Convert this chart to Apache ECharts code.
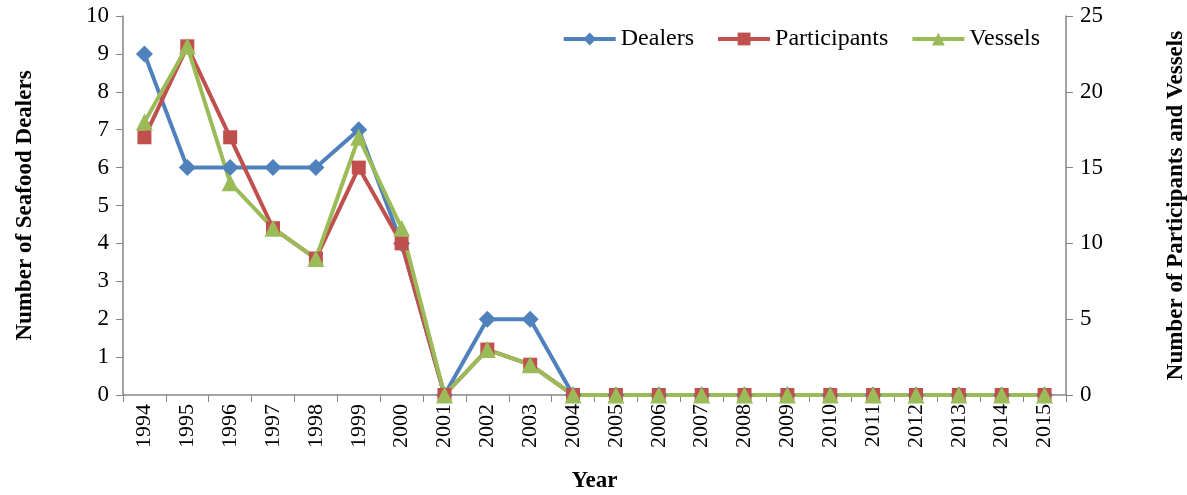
<!DOCTYPE html>
<html>
<head>
<meta charset="utf-8">
<script src="https://cdn.jsdelivr.net/npm/echarts@6/dist/echarts.min.js"></script>
<style>
  html, body { margin: 0; padding: 0; background: #fff; }
  #main { width: 1187px; height: 495px; }
</style>
</head>
<body>
<div id="main"></div>
<script>
var years = ['1994','1995','1996','1997','1998','1999','2000','2001','2002','2003','2004',
             '2005','2006','2007','2008','2009','2010','2011','2012','2013','2014','2015'];
var dealers =      [9, 6, 6, 6, 6, 7, 4, 0, 2, 2, 0, 0, 0, 0, 0, 0, 0, 0, 0, 0, 0, 0];
var participants = [17, 23, 17, 11, 9, 15, 10, 0, 3, 2, 0, 0, 0, 0, 0, 0, 0, 0, 0, 0, 0, 0];
var vessels =      [18, 23, 14, 11, 9, 17, 11, 0, 3, 2, 0, 0, 0, 0, 0, 0, 0, 0, 0, 0, 0, 0];

var box = echarts.init(document.getElementById('main'));
var FONT = '"Liberation Serif", "Times New Roman", serif';
var axisGray = '#868686';

var option = {
  textStyle: { fontFamily: FONT },
  animation: false,
  legend: {
    top: 22,
    right: 142,
    itemWidth: 52,
    itemHeight: 16,
    itemGap: 22,
    lineStyle: { width: 4 },
    textStyle: { fontFamily: FONT, fontSize: 24, color: '#000' },
    data: ['Dealers', 'Participants', 'Vessels']
  },
  grid: { left: 123, right: 121, top: 16, bottom: 100, outerBoundsMode: 'none' },
  xAxis: {
    type: 'category',
    data: years,
    boundaryGap: true,
    axisLine: { lineStyle: { color: axisGray, width: 1.5 } },
    axisTick: { show: true, length: 7, lineStyle: { color: axisGray } },
    axisLabel: { rotate: 90, fontSize: 22, color: '#000', fontFamily: FONT, margin: 9 },
    name: 'Year',
    nameLocation: 'middle',
    nameGap: 75,
    nameTextStyle: { fontFamily: FONT, fontSize: 23, fontWeight: 'bold', color: '#000' }
  },
  yAxis: [
    {
      type: 'value', min: 0, max: 10, interval: 1,
      axisLine: { show: true, lineStyle: { color: axisGray, width: 1.5 } },
      axisTick: { show: true, length: 7, lineStyle: { color: axisGray } },
      splitLine: { show: false },
      axisLabel: { fontSize: 23, color: '#000', fontFamily: FONT, margin: 14 },
      name: 'Number of Seafood Dealers',
      nameLocation: 'middle',
      nameGap: 86,
      nameTextStyle: { fontFamily: FONT, fontSize: 23, fontWeight: 'bold', color: '#000' }
    },
    {
      type: 'value', min: 0, max: 25, interval: 5,
      position: 'right',
      axisLine: { show: true, lineStyle: { color: axisGray, width: 1.5 } },
      axisTick: { show: true, length: 7, lineStyle: { color: axisGray } },
      splitLine: { show: false },
      axisLabel: { fontSize: 23, color: '#000', fontFamily: FONT, margin: 14 },
      name: 'Number of Participants and Vessels',
      nameLocation: 'middle',
      nameGap: 99,
      nameRotate: 90,
      nameTextStyle: { fontFamily: FONT, fontSize: 23, fontWeight: 'bold', color: '#000' }
    }
  ],
  series: [
    {
      name: 'Dealers', type: 'line', yAxisIndex: 0, data: dealers,
      symbol: 'diamond', symbolSize: 17,
      lineStyle: { width: 4, color: '#4F81BD' },
      itemStyle: { color: '#4F81BD' }
    },
    {
      name: 'Participants', type: 'line', yAxisIndex: 1, data: participants,
      symbol: 'rect', symbolSize: 14,
      lineStyle: { width: 4, color: '#C0504D' },
      itemStyle: { color: '#C0504D' }
    },
    {
      name: 'Vessels', type: 'line', yAxisIndex: 1, data: vessels,
      symbol: 'triangle', symbolSize: 17,
      lineStyle: { width: 4, color: '#9BBB59' },
      itemStyle: { color: '#9BBB59' }
    }
  ]
};

box.setOption(option);
</script>
</body>
</html>
